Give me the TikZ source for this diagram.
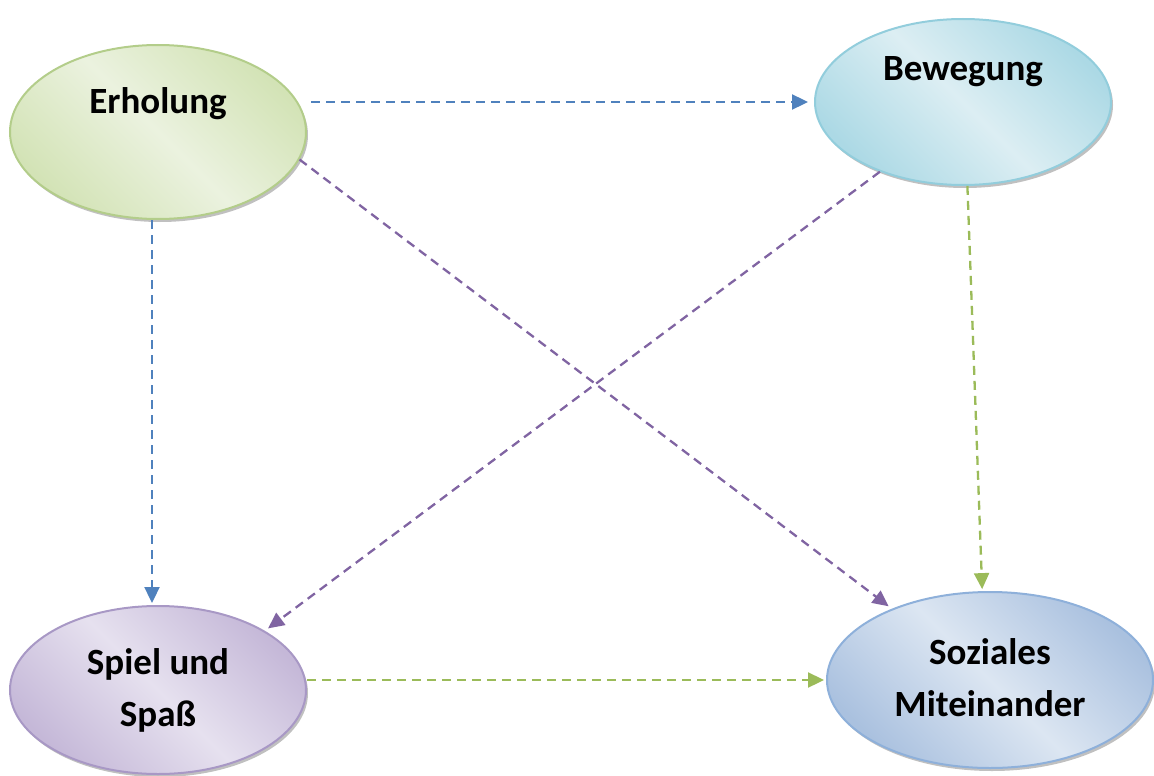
\documentclass[tikz,border=0pt]{standalone}
\usepackage{fontspec}
\setmainfont{Carlito}
\usetikzlibrary{shapes.geometric,arrows.meta,shadows}
\definecolor{arrblue}{HTML}{4F81BD}
\definecolor{arrpurple}{HTML}{8064A2}
\definecolor{arrgreen}{HTML}{9BBB59}
\definecolor{gBorder}{HTML}{B3CD8A}
\definecolor{gDark}{HTML}{D3E3B6}
\definecolor{gLight}{HTML}{EBF2DF}
\definecolor{bBorder}{HTML}{92CDDC}
\definecolor{bDark}{HTML}{ACD9E5}
\definecolor{bLight}{HTML}{DCEEF3}
\definecolor{pBorder}{HTML}{A898C5}
\definecolor{pDark}{HTML}{C5B8D8}
\definecolor{pLight}{HTML}{E6E1EF}
\definecolor{sBorder}{HTML}{8EB0DA}
\definecolor{sDark}{HTML}{AAC1DF}
\definecolor{sLight}{HTML}{DCE6F2}
\tikzset{
  ell/.style={ellipse, line width=2pt, inner sep=0pt,
    drop shadow={shadow xshift=2pt,shadow yshift=-3pt,fill=black!55,opacity=.45}},
  lbl/.style={font=\bfseries\fontsize{37}{52}\selectfont, align=center},
  conn/.style={line width=2.3pt, dash pattern=on 9pt off 6pt,
    -{Triangle[length=16pt,width=15pt]}},
}
\begin{document}
\begin{tikzpicture}[x=1pt,y=-1pt]
\useasboundingbox (0,0) rectangle (1154,776);
\node[ell, draw=gBorder, top color=gDark, bottom color=gDark, middle color=gLight, shading angle=-45,
  minimum width=296pt, minimum height=174pt,
  label={[lbl, name=tE, yshift=28pt]center:Erholung}] (E) at (158,132) {};
\node[ell, draw=bBorder, top color=bDark, bottom color=bDark, middle color=bLight, shading angle=-45,
  minimum width=296pt, minimum height=166pt,
  label={[lbl, name=tB, yshift=30pt]center:Bewegung}] (B) at (963,102) {};
\node[ell, draw=pBorder, top color=pDark, bottom color=pDark, middle color=pLight, shading angle=-45,
  minimum width=296pt, minimum height=168pt,
  label={[lbl, name=tS, yshift=0pt]center:Spiel und\\Spaß}] (S) at (158,690) {};
\node[ell, draw=sBorder, top color=sDark, bottom color=sDark, middle color=sLight, shading angle=-45,
  minimum width=326pt, minimum height=176pt,
  label={[lbl, name=tZ, yshift=2pt]center:Soziales\\Miteinander}] (Z) at (990,680) {};
\draw[conn, arrblue, shorten <=4pt, shorten >=6pt] (E.east |- B.center) -- (B.west);
\draw[conn, arrblue, shorten >=2pt] ([xshift=-6pt]E.south) -- ([xshift=-6pt]S.north);
\draw[conn, arrpurple, shorten >=4pt] (E.-11) -- (Z.144);
\draw[conn, arrpurple, shorten >=4pt] (B.220) -- (S.29);
\draw[conn, arrgreen, shorten >=2pt] (B.-87) -- (Z.95);
\draw[conn, arrgreen, shorten >=2pt] (S.east |- Z.center) -- (Z.west);
\end{tikzpicture}
\end{document}
